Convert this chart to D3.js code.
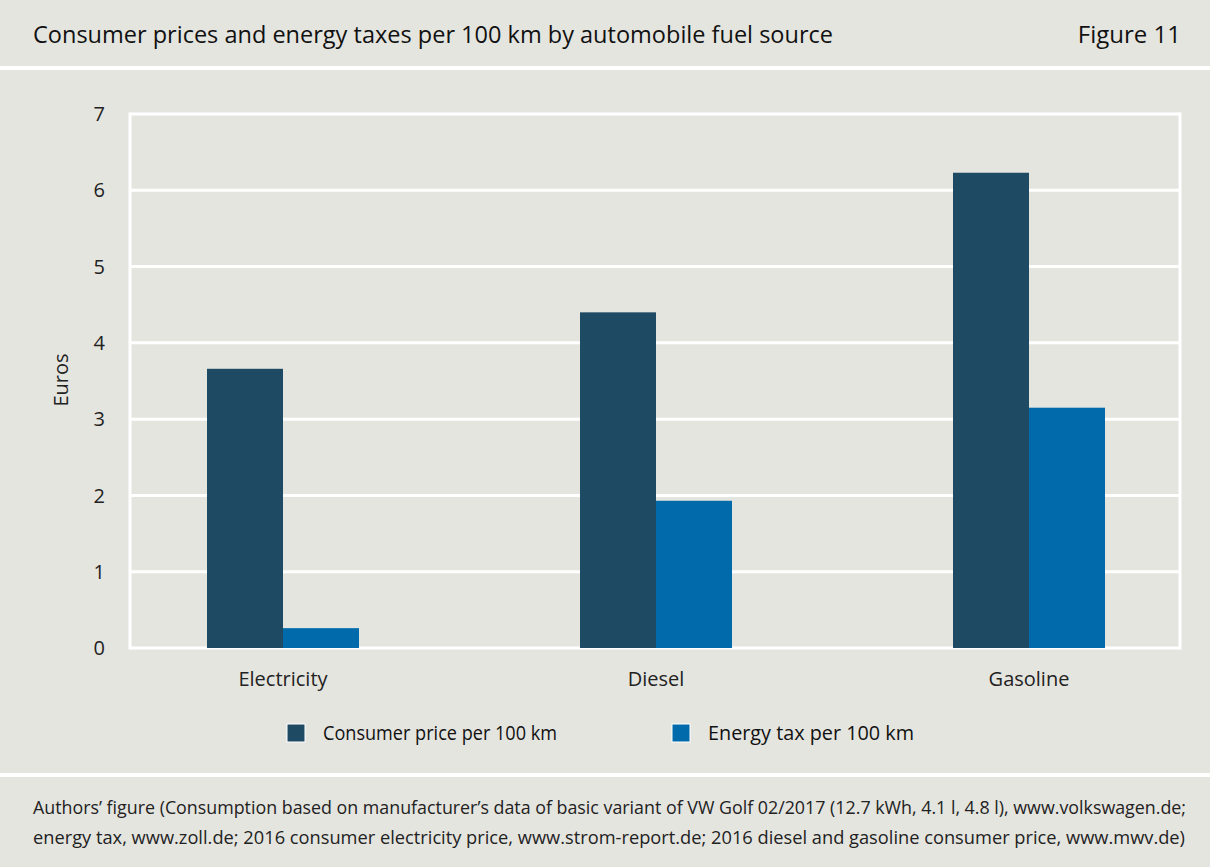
<!DOCTYPE html>
<html><head><meta charset="utf-8">
<script src="https://cdn.jsdelivr.net/npm/d3@7"></script>
<style>body{margin:0;background:#fff}svg{display:block}</style>
</head><body>
<script>
const categories = ["Electricity", "Diesel", "Gasoline"];
const seriesNames = ["Consumer price per 100 km", "Energy tax per 100 km"];
const consumerPrice = [3.66, 4.40, 6.23];
const energyTax = [0.26, 1.93, 3.15];
const yTicks = [0, 1, 2, 3, 4, 5, 6, 7];
const titleText = "Consumer prices and energy taxes per 100 km by automobile fuel source";
const figureLabel = "Figure 11";
const yLabel = "Euros";
const footerLines = [
  "Authors\u2019 figure (Consumption based on manufacturer\u2019s data of basic variant of VW Golf 02/2017 (12.7 kWh, 4.1 l, 4.8 l),  www.volkswagen.de;",
  "energy tax, www.zoll.de; 2016 consumer electricity price, www.strom-report.de; 2016 diesel and gasoline consumer price, www.mwv.de)"
];
const colors = ["#1f4a63", "#006aab"];

const W = 1210, H = 867, BG = "#e5e5e0";
const condensed = "'Liberation Sans Narrow', 'Open Sans', sans-serif";
const sans = "'Open Sans', 'DejaVu Sans', sans-serif";

const svg = d3.select("body").append("svg").attr("width", W).attr("height", H);
svg.append("rect").attr("width", W).attr("height", H).attr("fill", "#fff");
svg.append("rect").attr("x",0).attr("y",0).attr("width",W).attr("height",66).attr("fill",BG);
svg.append("rect").attr("x",0).attr("y",70).attr("width",W).attr("height",703).attr("fill",BG);
svg.append("rect").attr("x",0).attr("y",777).attr("width",W).attr("height",90).attr("fill",BG);

svg.append("text").attr("x",33).attr("y",43).attr("font-family",condensed).attr("font-size",24)
  .attr("fill","#111").attr("textLength",800).attr("lengthAdjust","spacingAndGlyphs").text(titleText);
svg.append("text").attr("x",1181).attr("y",43).attr("text-anchor","end").attr("font-family",condensed)
  .attr("font-size",24).attr("fill","#111").text(figureLabel);

const plotL = 130, plotR = 1180, plotT = 114, plotB = 648;
const y = d3.scaleLinear().domain([0, 7]).range([plotB, plotT]);
const x = d3.scaleBand().domain(categories).range([96.5, 1215.5]);
const barW = 76;

const g = svg.append("g");
g.selectAll("line.grid").data(yTicks).join("line")
  .attr("x1", plotL).attr("x2", plotR).attr("y1", d => y(d)).attr("y2", d => y(d))
  .attr("stroke", "#fff").attr("stroke-width", 3);
g.append("line").attr("x1",plotL).attr("x2",plotL).attr("y1",y(7)-1.5).attr("y2",y(0)+1.5).attr("stroke","#fff").attr("stroke-width",3);
g.append("line").attr("x1",plotR).attr("x2",plotR).attr("y1",y(7)-1.5).attr("y2",y(0)+1.5).attr("stroke","#fff").attr("stroke-width",3);

const yAxis = d3.axisLeft(y).tickValues(yTicks).tickSize(0).tickPadding(0).tickFormat(d3.format("d"));
const ya = svg.append("g").attr("transform", `translate(105,0)`).call(yAxis);
ya.select(".domain").remove();
ya.selectAll("text").attr("font-family", sans).attr("font-size", 20).attr("fill", "#222").attr("dy","0.33em");

svg.append("text").attr("transform", `translate(68,${(plotT+plotB)/2 - 1}) rotate(-90)`)
  .attr("text-anchor","middle").attr("font-family",sans).attr("font-size",20).attr("fill","#222").text(yLabel);

const series = [consumerPrice, energyTax];
series.forEach((vals, si) => {
  g.selectAll(`rect.s${si}`).data(categories).join("rect")
    .attr("x", c => x(c) + x.bandwidth()/2 - barW + si*barW)
    .attr("width", barW)
    .attr("y", (c, i) => y(vals[i]))
    .attr("height", (c, i) => y(0) - y(vals[i]))
    .attr("fill", colors[si]);
});

const xAxis = d3.axisBottom(x).tickSize(0).tickPadding(0);
const xa = svg.append("g").attr("transform", `translate(0,686)`).call(xAxis);
xa.select(".domain").remove();
xa.selectAll("text").attr("font-family", sans).attr("font-size", 20).attr("fill","#222").attr("dy","0");

const legX = [287, 672], legTW = [234, 206];
seriesNames.forEach((n, i) => {
  svg.append("rect").attr("x", legX[i]).attr("y", 724).attr("width", 18).attr("height", 18)
    .attr("fill", colors[i]).attr("stroke","#fff").attr("stroke-width",1);
  svg.append("text").attr("x", legX[i] + 36).attr("y", 740).attr("font-family", condensed)
    .attr("font-size", 20).attr("fill","#111").attr("textLength", legTW[i]).attr("lengthAdjust","spacingAndGlyphs").text(n);
});

const footW = [1153, 1152];
footerLines.forEach((t, i) => {
  svg.append("text").attr("x", 33).attr("y", 814 + i*30).attr("font-family", condensed)
    .attr("font-size", 18).attr("fill","#222").attr("textLength", footW[i]).attr("lengthAdjust","spacingAndGlyphs").text(t);
});
</script>
</body></html>
